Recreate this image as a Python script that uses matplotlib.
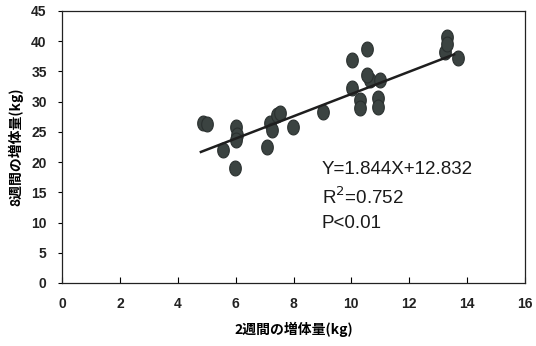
import matplotlib
matplotlib.use("Agg")
import matplotlib.pyplot as plt
import numpy as np
from matplotlib.path import Path
from matplotlib import font_manager

# data
x_vals = [4.87, 5.0, 5.56, 6.01, 6.05, 6.0, 5.98, 7.08, 7.19, 7.26, 7.43, 7.53, 7.98,
          9.02, 10.02, 10.54, 10.02, 10.3, 10.3, 10.64, 10.99, 10.92, 10.92, 10.54,
          13.3, 13.23, 13.3, 13.7]
y_vals = [26.5, 26.3, 22.0, 25.8, 24.5, 23.7, 19.0, 22.5, 26.5, 25.3, 27.8, 28.1, 25.8,
          28.3, 36.9, 38.7, 32.3, 30.3, 29.0, 33.6, 33.6, 30.6, 29.1, 34.4,
          40.7, 38.2, 39.6, 37.3]
slope = 1.844
intercept = 12.832
fit_range = [4.8, 13.55]
x_ticks = [0, 2, 4, 6, 8, 10, 12, 14, 16]
y_ticks = [0, 5, 10, 15, 20, 25, 30, 35, 40, 45]
eq_lines = ["Y=1.844X+12.832", "R$^2$=0.752", "P<0.01"]

avail = {f.name for f in font_manager.fontManager.ttflist}
narrow = 'Liberation Sans Narrow' if 'Liberation Sans Narrow' in avail else 'Liberation Sans'
tick_font = [narrow, 'DejaVu Sans']
jp_font = ['Noto Sans CJK JP', 'DejaVu Sans']

fig = plt.figure(figsize=(5.36, 3.46), dpi=100)
ax = fig.add_axes([62/536, 1-283/346, (525-62)/536, (283-11)/346])

# vertical ellipse marker
t = np.linspace(0, 2*np.pi, 40)
verts = np.column_stack([0.78*np.cos(t), np.sin(t)])
ell = Path(verts, closed=True)

ax.scatter(x_vals, y_vals, marker=ell, s=115, color='#3b4341', edgecolors='#2a302f',
           linewidths=0.8, zorder=3)
fx = np.array(fit_range)
ax.plot(fx, slope*fx + intercept, color='#1e1e1e', lw=1.8, zorder=4)

ax.set_xlim(0, 16)
ax.set_ylim(0, 45)
ax.set_xticks(x_ticks)
ax.set_yticks(y_ticks)
ax.tick_params(axis='x', direction='in', length=4, width=0.8, pad=10)
ax.tick_params(axis='y', direction='out', length=3, width=0.8, pad=8)
for lab in ax.get_xticklabels() + ax.get_yticklabels():
    lab.set_fontfamily(tick_font)
    lab.set_fontweight('bold')
    lab.set_fontsize(10)
    lab.set_color('#222222')
for s in ax.spines.values():
    s.set_linewidth(0.9)
    s.set_color('#222222')

ax.set_xlabel("2週間の増体量(kg)", family=jp_font, fontweight='bold', fontsize=10, labelpad=8)
ax.set_ylabel("8週間の増体量(kg)", family=jp_font, fontweight='bold', fontsize=10, labelpad=6)

for i, s in enumerate(eq_lines):
    ax.text(8.98, 18.7 - i*4.45, s, family=['Liberation Sans', 'DejaVu Sans'],
            fontsize=13.5, va='center', ha='left', color='#1a1a1a')

fig.savefig("out.png", dpi=100)
